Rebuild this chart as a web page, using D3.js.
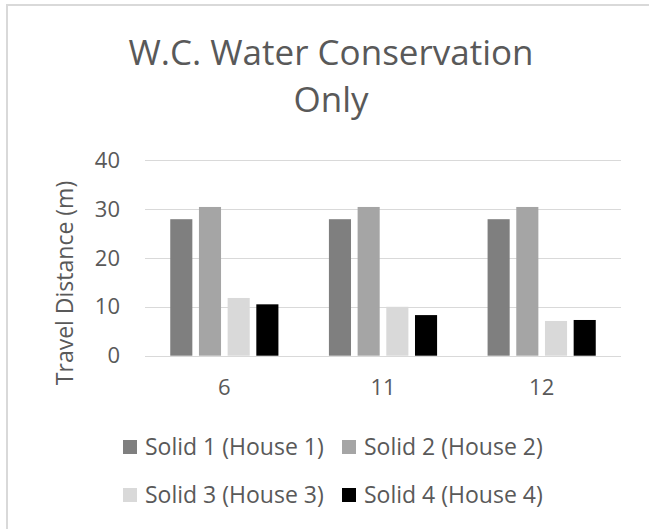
<!DOCTYPE html>
<html>
<head>
<meta charset="utf-8">
<script src="https://cdn.jsdelivr.net/npm/d3@7"></script>
<style>
    body { margin: 0; background: #fff; }
    svg text { font-family: "Open Sans", "Noto Sans", sans-serif; fill: #595959; }
</style>
</head>
<body>
<div class="chart"></div>
<script>
var categories = ['6', '11', '12'];
var seriesNames = ['Solid 1 (House 1)', 'Solid 2 (House 2)', 'Solid 3 (House 3)', 'Solid 4 (House 4)'];
var solid1 = [27.9, 27.9, 27.9];
var solid2 = [30.4, 30.4, 30.4];
var solid3 = [11.8, 10.0, 7.1];
var solid4 = [10.5, 8.3, 7.3];
var yTicks = [0, 10, 20, 30, 40];
var colors = ['#7f7f7f', '#a5a5a5', '#d9d9d9', '#000000'];

var allSeries = [solid1, solid2, solid3, solid4];

var width = 649, height = 529;
var plot = {left: 145, right: 621, top: 160, bottom: 355.7};

var svg = d3.select('.chart').append('svg')
    .attr('width', width)
    .attr('height', height);

// chart frame (only top and left edges are visible)
svg.append('line').attr('x1', 6).attr('x2', width).attr('y1', 5).attr('y2', 5)
    .attr('stroke', '#d9d9d9').attr('stroke-width', 2);
svg.append('line').attr('x1', 7).attr('x2', 7).attr('y1', 4).attr('y2', height)
    .attr('stroke', '#d9d9d9').attr('stroke-width', 2);

// title, two lines
var title = svg.append('g')
    .attr('text-anchor', 'middle')
    .style('font-size', '35px');
title.append('text').attr('x', 331).attr('y', 65).text('W.C. Water Conservation');
title.append('text').attr('x', 331).attr('y', 112).text('Only');

var x0 = d3.scaleBand()
    .domain(categories)
    .range([plot.left, plot.right]);

var x1 = d3.scaleBand()
    .domain(d3.range(seriesNames.length))
    .range([0, x0.bandwidth()])
    .paddingInner(0.23)
    .paddingOuter(0.88);

var y = d3.scaleLinear()
    .domain([0, 40])
    .range([plot.bottom, plot.top]);

// gridlines
svg.append('g')
    .selectAll('line')
    .data(yTicks)
    .enter().append('line')
    .attr('x1', plot.left)
    .attr('x2', plot.right)
    .attr('y1', function(d) { return Math.round(y(d)) + 0.5; })
    .attr('y2', function(d) { return Math.round(y(d)) + 0.5; })
    .attr('stroke', '#d9d9d9')
    .attr('stroke-width', 1);

// y tick labels
svg.append('g')
    .selectAll('text')
    .data(yTicks)
    .enter().append('text')
    .attr('x', 120)
    .attr('y', function(d) { return y(d); })
    .attr('dy', '0.35em')
    .attr('text-anchor', 'end')
    .style('font-size', '22px')
    .text(function(d) { return d; });

// y axis title
svg.append('text')
    .attr('transform', 'translate(73,283) rotate(-90)')
    .attr('text-anchor', 'middle')
    .style('font-size', '23px')
    .text('Travel Distance (m)');

// bars
var groups = svg.append('g')
    .selectAll('g')
    .data(categories)
    .enter().append('g')
    .attr('transform', function(d) { return 'translate(' + x0(d) + ',0)'; });

groups.selectAll('rect')
    .data(function(d, i) {
        return allSeries.map(function(s, j) { return {series: j, value: s[i]}; });
    })
    .enter().append('rect')
    .attr('x', function(d) { return x1(d.series); })
    .attr('width', x1.bandwidth())
    .attr('y', function(d) { return y(d.value); })
    .attr('height', function(d) { return y(0) - y(d.value); })
    .attr('fill', function(d) { return colors[d.series]; });

// x labels
svg.append('g')
    .selectAll('text')
    .data(categories)
    .enter().append('text')
    .attr('x', function(d) { return x0(d) + x0.bandwidth() / 2; })
    .attr('y', 395)
    .attr('text-anchor', 'middle')
    .style('font-size', '22px')
    .text(function(d) { return d; });

// legend, two rows of two
var legendPos = [
    {x: 123, y: 447}, {x: 342, y: 447},
    {x: 123, y: 495}, {x: 342, y: 495}
];

var legend = svg.append('g')
    .selectAll('g')
    .data(seriesNames)
    .enter().append('g')
    .attr('transform', function(d, i) { return 'translate(' + legendPos[i].x + ',' + legendPos[i].y + ')'; });

legend.append('rect')
    .attr('x', 0)
    .attr('y', -7)
    .attr('width', 14)
    .attr('height', 14)
    .attr('fill', function(d, i) { return colors[i]; });

legend.append('text')
    .attr('x', 22)
    .attr('y', 0)
    .attr('dy', '0.35em')
    .style('font-size', '23px')
    .text(function(d) { return d; });
</script>
</body>
</html>
